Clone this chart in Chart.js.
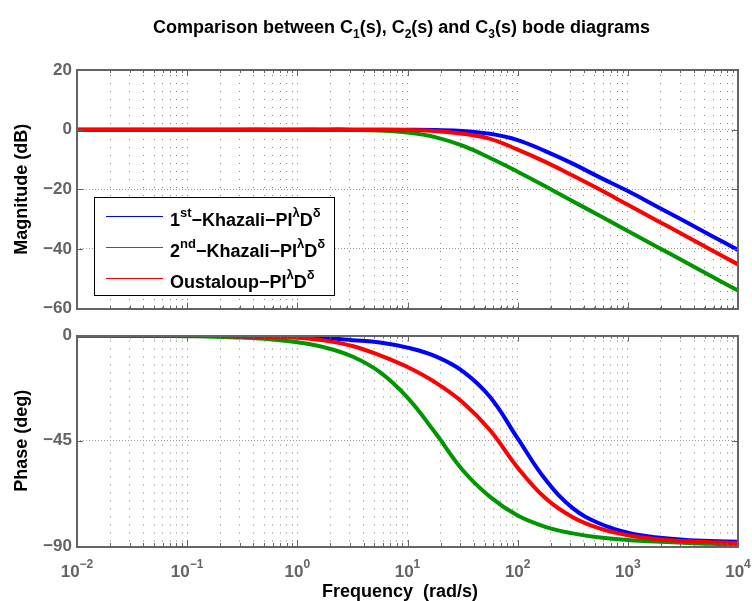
<!DOCTYPE html>
<html lang="en">
  <head>
    <meta charset="UTF-8" />
    <title>Bode diagrams C1, C2, C3</title>
    <script src="https://cdn.jsdelivr.net/npm/chart.js"></script>
    <style>
      html, body { margin: 0; padding: 0; background: #fff; }
      .wrap { position: relative; width: 752px; height: 601px; }
      canvas { position: absolute; left: 0; }
      #magnitude { top: 0; }
      #phase { top: 322px; }
    </style>
  </head>
  <body>
    <div class="wrap">
      <canvas id="magnitude" width="752" height="322"></canvas>
      <canvas id="phase" width="752" height="279"></canvas>
    </div>

    <script>
      // frequency points (rad/s), 4 per decade
      const freq = [0.01, 0.0178, 0.0316, 0.0562, 0.1, 0.178, 0.316, 0.562, 1, 1.78, 3.16, 5.62, 10, 17.8, 31.6, 56.2, 100, 178, 316, 562, 1000, 1778, 3162, 5623, 10000];

      // magnitude (dB)
      const magKhazali1 = [0, 0, 0, 0, 0, 0, 0, 0, 0, 0, 0, -0.01, -0.05, -0.15, -0.45, -1.4, -3.5, -7.2, -11.4, -16.1, -20.6, -25.5, -30.4, -35.4, -40.4];
      const magKhazali2 = [0, 0, 0, 0, 0, 0, 0, 0, -0.01, -0.03, -0.11, -0.33, -0.97, -2.5, -5.4, -9.5, -14.1, -19.0, -24.0, -29.0, -34.0, -39.0, -44.0, -49.0, -54.0];
      const magOustaloup = [0, 0, 0, 0, 0, 0, 0, 0, 0, 0, -0.01, -0.04, -0.15, -0.45, -1.4, -3.1, -6.7, -10.8, -15.4, -20.2, -25.2, -30.2, -35.2, -40.2, -45.2];

      // phase (deg)
      const phKhazali1 = [0, 0, -0.05, -0.1, -0.1, -0.2, -0.3, -0.45, -0.6, -1.1, -2.0, -3.0, -5.2, -8.8, -15.2, -26.3, -44.0, -61.5, -73.8, -80.5, -84.3, -86.3, -87.3, -87.9, -88.2];
      const phKhazali2 = [0, -0.05, -0.1, -0.15, -0.3, -0.5, -0.9, -1.6, -2.9, -5.1, -9.0, -15.7, -26.6, -41.5, -57.5, -69.0, -77.0, -81.8, -84.6, -86.4, -87.4, -88.1, -88.6, -89.0, -89.2];
      const phOustaloup = [0, 0, -0.05, -0.1, -0.15, -0.25, -0.4, -0.6, -1.0, -2.2, -4.5, -8.5, -13.5, -20.0, -28.5, -40.5, -56.5, -69.5, -77.7, -82.6, -85.4, -87.0, -87.9, -88.4, -88.7];

      // tick labels
      const decades = [-2, -1, 0, 1, 2, 3, 4];
      const magTicks = [20, 0, -20, -40, -60];
      const phTicks = [0, -45, -90];

      const FONT = '"Liberation Sans", Arial, Helvetica, sans-serif';
      const GRAY = "#646464";
      const BLUE = "#0000ff";
      const GREEN = "#009600";
      const RED = "#ff0000";

      // 1..9 x 10^d grid positions
      const freqGrid = [];
      decades.forEach((d) => {
        if (d === 4) { freqGrid.push(10000); return; }
        for (let m = 1; m <= 9; m++) freqGrid.push(+(m * Math.pow(10, d)).toPrecision(3));
      });

      function minus(v) {
        return v < 0 ? "\u2212" + Math.abs(v) : String(v);
      }

      function partsWidth(ctx, parts) {
        let w = 0;
        parts.forEach((p) => {
          ctx.font = "bold " + p.s + "px " + FONT;
          w += ctx.measureText(p.t).width;
        });
        return w;
      }

      function drawParts(ctx, parts, x, y, center, color) {
        let cx = center ? x - partsWidth(ctx, parts) / 2 : x;
        ctx.save();
        ctx.fillStyle = color;
        ctx.textAlign = "left";
        ctx.textBaseline = "alphabetic";
        parts.forEach((p) => {
          ctx.font = "bold " + p.s + "px " + FONT;
          ctx.fillText(p.t, cx, y + (p.dy || 0));
          cx += ctx.measureText(p.t).width;
        });
        ctx.restore();
      }

      // box with inner tick marks, like the MATLAB axes
      const boxPlugin = {
        id: "box",
        afterDatasetsDraw(chart) {
          const { ctx, chartArea: a, scales } = chart;
          ctx.save();
          ctx.strokeStyle = GRAY;
          ctx.lineWidth = 1;
          ctx.beginPath();
          freqGrid.forEach((v) => {
            const px = Math.round(scales.x.getPixelForValue(v)) + 0.5;
            const len = Number.isInteger(Math.log10(v)) ? 6 : 3;
            ctx.moveTo(px, a.top); ctx.lineTo(px, a.top + len);
            ctx.moveTo(px, a.bottom); ctx.lineTo(px, a.bottom - len);
          });
          scales.y.ticks.forEach((t) => {
            const py = Math.round(scales.y.getPixelForValue(t.value)) + 0.5;
            ctx.moveTo(a.left, py); ctx.lineTo(a.left + 6, py);
            ctx.moveTo(a.right, py); ctx.lineTo(a.right - 6, py);
          });
          ctx.stroke();
          ctx.lineWidth = 2;
          ctx.strokeRect(Math.round(a.left), Math.round(a.top), Math.round(a.right - a.left), Math.round(a.bottom - a.top));
          ctx.restore();
        },
      };

      const titleLegendPlugin = {
        id: "titleLegend",
        afterDraw(chart) {
          const ctx = chart.ctx;
          const a = chart.chartArea;
          drawParts(ctx, [
            { t: "Comparison between C", s: 18 },
            { t: "1", s: 12, dy: 5 },
            { t: "(s), C", s: 18 },
            { t: "2", s: 12, dy: 5 },
            { t: "(s) and C", s: 18 },
            { t: "3", s: 12, dy: 5 },
            { t: "(s) bode diagrams", s: 18 },
          ], (a.left + a.right) / 2 - 6, 33, true, "#000");

          // legend
          ctx.save();
          ctx.fillStyle = "#fff";
          ctx.fillRect(94, 197, 240, 98);
          ctx.strokeStyle = "#000";
          ctx.lineWidth = 1;
          ctx.strokeRect(94.5, 197.5, 240, 98);
          ctx.restore();
          const rows = [
            { color: BLUE, y: 216, head: [{ t: "1", s: 18 }, { t: "st", s: 13, dy: -9 }, { t: "\u2212Khazali\u2212PI", s: 18 }] },
            { color: GREEN, y: 247, head: [{ t: "2", s: 18 }, { t: "nd", s: 13, dy: -9 }, { t: "\u2212Khazali\u2212PI", s: 18 }] },
            { color: RED, y: 278, head: [{ t: "Oustaloup\u2212PI", s: 18 }] },
          ];
          rows.forEach((r) => {
            ctx.save();
            ctx.strokeStyle = r.color;
            ctx.lineWidth = 1;
            ctx.beginPath();
            ctx.moveTo(106, r.y + 0.5);
            ctx.lineTo(163, r.y + 0.5);
            ctx.stroke();
            ctx.restore();
            const parts = r.head.concat([
              { t: "\u03bb", s: 13, dy: -9 },
              { t: "D", s: 18 },
              { t: "\u03b4", s: 13, dy: -9 },
            ]);
            drawParts(ctx, parts, 170, r.y + 10, false, "#000");
          });
        },
      };

      const freqLabelPlugin = {
        id: "freqLabels",
        afterDraw(chart) {
          const ctx = chart.ctx;
          const x = chart.scales.x;
          decades.forEach((d) => {
            drawParts(ctx, [
              { t: "10", s: 17 },
              { t: minus(d), s: 12, dy: -9 },
            ], x.getPixelForValue(Math.pow(10, d)), 255, true, GRAY);
          });
          drawParts(ctx, [{ t: "Frequency  (rad/s)", s: 18 }], 400, 275, true, "#000");
        },
      };

      function series(values, color) {
        return {
          data: freq.map((f, i) => ({ x: f, y: values[i] })),
          borderColor: color,
          borderWidth: 4,
          pointRadius: 0,
          tension: 0.4,
          fill: false,
        };
      }

      function xScale(h) {
        return {
          type: "logarithmic",
          min: 0.01,
          max: 10000,
          afterBuildTicks: (s) => { s.ticks = freqGrid.map((v) => ({ value: v })); },
          afterFit: (s) => { s.height = h; },
          ticks: { display: false, autoSkip: false },
          grid: { color: "rgba(0,0,0,0.5)", lineWidth: 1, drawTicks: false },
          border: { display: false, dash: [1, 7], dashOffset: 3 },
        };
      }

      function yScale(min, max, ticks, title) {
        return {
          min: min,
          max: max,
          afterBuildTicks: (s) => { s.ticks = ticks.map((v) => ({ value: v })); },
          afterFit: (s) => { s.width = 77; },
          ticks: {
            autoSkip: false,
            padding: 5,
            color: GRAY,
            font: { family: FONT, size: 17, weight: "bold", lineHeight: 1 },
            callback: (v) => minus(v),
          },
          grid: { color: "rgba(0,0,0,0.4)", lineWidth: 1, drawTicks: false },
          border: { display: false, dash: [1, 2] },
          title: {
            display: true,
            text: title,
            color: "#000",
            font: { family: FONT, size: 18, weight: "bold" },
            padding: { top: 11, bottom: 0 },
          },
        };
      }

      const common = {
        responsive: false,
        animation: false,
        devicePixelRatio: 1,
        plugins: { legend: { display: false }, tooltip: { enabled: false } },
      };

      // red on top, then blue, then green
      new Chart(document.getElementById("magnitude").getContext("2d"), {
        type: "line",
        data: {
          datasets: [
            series(magOustaloup, RED),
            series(magKhazali1, BLUE),
            series(magKhazali2, GREEN),
          ],
        },
        options: Object.assign({}, common, {
          layout: { padding: { left: 0, right: 14, top: 70, bottom: 9 } },
          scales: { x: xScale(0), y: yScale(-60, 20, magTicks, "Magnitude (dB)") },
        }),
        plugins: [boxPlugin, titleLegendPlugin],
      });

      new Chart(document.getElementById("phase").getContext("2d"), {
        type: "line",
        data: {
          datasets: [
            series(phOustaloup, RED),
            series(phKhazali1, BLUE),
            series(phKhazali2, GREEN),
          ],
        },
        options: Object.assign({}, common, {
          layout: { padding: { left: 0, right: 14, top: 10, bottom: 0 } },
          scales: { x: xScale(55), y: yScale(-90, 0, phTicks, "Phase (deg)") },
        }),
        plugins: [boxPlugin, freqLabelPlugin],
      });
    </script>
  </body>
</html>
